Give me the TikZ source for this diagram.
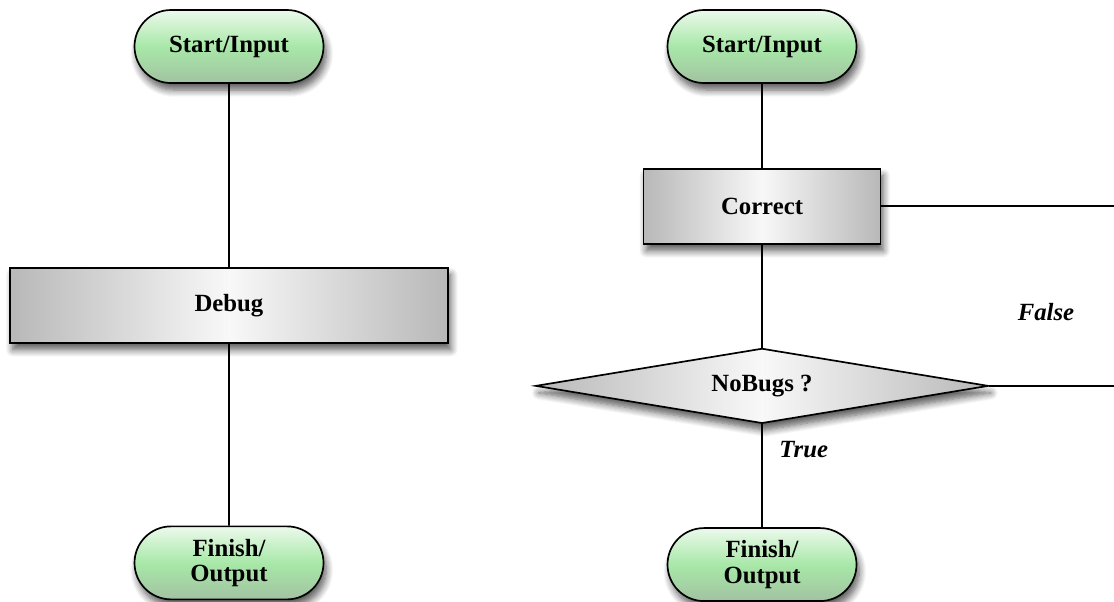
\documentclass[tikz,border=0pt]{standalone}
\usepackage{fontspec}
\setmainfont{Liberation Serif}
\usetikzlibrary{positioning, shapes.geometric, shapes.misc, shadows.blur}
\definecolor{termtop}{HTML}{ECF9EC}
\definecolor{termmid}{HTML}{A8E8A8}
\definecolor{termbot}{HTML}{A2C2A2}
\definecolor{boxedge}{HTML}{B8B8B8}
\definecolor{boxmid}{HTML}{F8F8F8}
\tikzset{%
	base/.style={draw, line width=1.2pt, inner sep=0mm, align=center,%
		font=\fontsize{17.6}{18}\selectfont\bfseries,%
		blur shadow={shadow xshift=2pt, shadow yshift=-5pt, shadow blur radius=5pt,%
			shadow blur steps=8, shadow opacity=65}},
	term/.style={base, rounded rectangle, minimum width=4.725cm, minimum height=1.825cm,%
		top color=termtop, bottom color=termbot, middle color=termmid},
	proc/.style={base, rectangle, minimum height=1.875cm,%
		left color=boxedge, right color=boxedge, middle color=boxmid},
	test/.style={base, diamond, aspect=6, minimum width=11.325cm, minimum height=1.875cm,%
		left color=boxedge, right color=boxedge, middle color=boxmid},
	flow/.style={line width=1.1pt},
	verdict/.style={font=\fontsize{17.6}{18}\selectfont\bfseries\itshape}
}
\begin{document}
\begin{tikzpicture}
	\useasboundingbox (0,0) rectangle (27.85,-15.025);
	\coordinate (rim) at (27.85,0);

	% plain debugging
	\node[term] (startL) at (5.725,-1.1625) {Start/Input};
	\node[proc, minimum width=10.95cm, below=4.575cm of startL] (debug) {Debug};
	\node[term, below=4.55cm of debug] (finishL) {Finish/\\Output};

	% correct until no bugs are left
	\node[term] (startR) at (19.05,-1.1625) {Start/Input};
	\node[proc, minimum width=5.925cm, below=2.1cm of startR] (correct) {Correct};
	\node[test, below=2.575cm of correct] (nobugs) {NoBugs ?};
	\node[term, below=2.575cm of nobugs] (finishR) {Finish/\\Output};
	\node[verdict] (lblFalse) at (26.15,-7.8) {False};

	\draw[flow] (startL) -- (debug);
	\draw[flow] (debug) -- (finishL);
	\draw[flow] (startR) -- (correct);
	\draw[flow] (correct) -- (nobugs);
	\draw[flow] (nobugs) -- node[verdict, pos=0.25, right, xshift=0.3cm]{True} (finishR);
	\draw[flow] (correct.east) -- (correct.east -| rim);
	\draw[flow] (nobugs.east) -- (nobugs.east -| rim);
\end{tikzpicture}
\end{document}
